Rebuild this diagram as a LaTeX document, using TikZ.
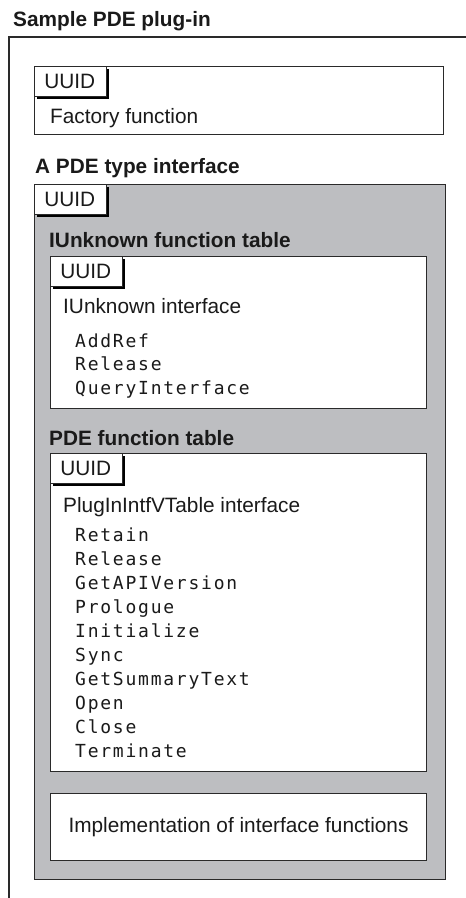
\documentclass[tikz,border=0pt]{standalone}
\usepackage{fontspec}
\setmainfont{Liberation Sans}
\newfontfamily\codefont{DejaVu Sans Mono}[LetterSpace=9.8]
\usetikzlibrary{shadows}
\definecolor{edge}{HTML}{2A2A2A}
\definecolor{panelgray}{HTML}{BDBEC1}
\definecolor{ink}{HTML}{1A1A1A}
\begin{document}
\begin{tikzpicture}[x=1pt,y=-1pt,
  every node/.style={text=ink},
  box/.style={draw=edge,line width=1pt,fill=white,inner sep=0pt,anchor=north west},
  graybox/.style={draw=edge,line width=1.3pt,fill=panelgray,inner sep=0pt,anchor=north west},
  tab/.style={draw=edge,line width=0.8pt,fill=white,anchor=north west,
    minimum width=72pt,minimum height=30pt,inner xsep=10pt,inner ysep=7.5pt,
    text width=52pt,align=left,text height=15pt,text depth=0pt,
    font=\fontsize{20.8}{24}\selectfont,
    drop shadow={shadow xshift=3pt,shadow yshift=-3pt,opacity=1,fill=black}},
  heading/.style={anchor=base west,inner sep=0pt,font=\fontsize{20.8}{24}\selectfont\bfseries},
  label/.style={anchor=base west,inner sep=0pt,font=\fontsize{20.8}{24}\selectfont},
  code/.style={anchor=base west,inner sep=0pt,font=\fontsize{18}{23.5}\codefont},
]
\useasboundingbox (0,0) rectangle (466,898);

% outer plug-in frame (open to the right and bottom)
\node[heading] (title) at (13,26) {Sample PDE plug-in};
\coordinate (frameTL) at (9,37);
\coordinate (frameR) at (466,37);
\coordinate (frameB) at (9,898);
\draw[edge,line width=1.4pt] (frameB) -- (frameTL) -- (frameR);

% factory block
\node[box,minimum width=409pt,minimum height=68pt] (factory) at (34,66) {};
\node[tab] (factoryuuid) at (factory.north west) {UUID};
\node[label] (factorytext) at (50,123) {Factory function};

% PDE type interface
\node[heading] (ifacehead) at (35,173) {A PDE type interface};
\node[graybox,minimum width=411pt,minimum height=695pt] (iface) at (34,184) {};
\node[tab] (ifaceuuid) at (iface.north west) {UUID};

% IUnknown function table
\node[heading] (iuhead) at (49,247) {IUnknown function table};
\node[box,minimum width=376pt,minimum height=152pt] (iu) at (50,256) {};
\node[tab] (iuuuid) at (iu.north west) {UUID};
\node[label] (iutext) at (63,313) {IUnknown interface};
\foreach \name [count=\i from 0] in {AddRef,Release,QueryInterface}
  \node[code] (iufn\i) at (75,347+23.5*\i) {\name};

% PDE function table
\node[heading] (pdehead) at (49,445) {PDE function table};
\node[box,minimum width=376pt,minimum height=318pt] (pde) at (50,453) {};
\node[tab] (pdeuuid) at (pde.north west) {UUID};
\node[label] (pdetext) at (63,512) {PlugInIntfVTable interface};
\foreach \name [count=\i from 0] in {Retain,Release,GetAPIVersion,Prologue,Initialize,Sync,GetSummaryText,Open,Close,Terminate}
  \node[code] (pdefn\i) at (75,541+24*\i) {\name};

% implementation block
\node[box,minimum width=376pt,minimum height=67pt] (impl) at (50,793) {};
\node[inner sep=0pt,font=\fontsize{20.8}{24}\selectfont] (impltext) at (impl.center) {Implementation of interface functions};
\end{tikzpicture}
\end{document}
